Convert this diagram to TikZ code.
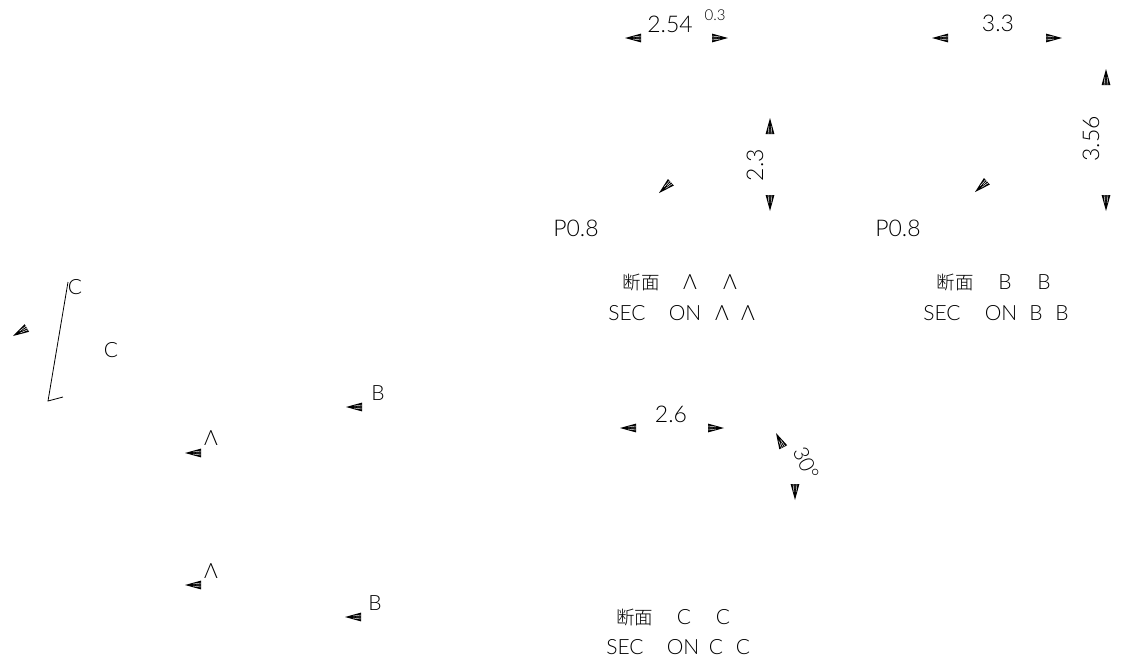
\documentclass[tikz,border=0pt]{standalone}
\usepackage{fontspec}
\setmainfont{Lato Light}
\newfontfamily\cjkfont{Noto Sans CJK SC Light}
\newcommand{\headh}[3]{%
  \begin{scope}[shift={(#1,#2)},rotate=#3]
    \fill[black] (0,0) -- (16,-4.4) -- (16,4.4) -- cycle;
    \draw[white,line width=0.45pt] (8,-1) -- (16,-2) (8,1) -- (16,2) (11,0) -- (16,0);
  \end{scope}}
\tikzset{
  lbl/.style={inner sep=0pt,outer sep=0pt,anchor=center,text=black,font=\fontsize{23}{23}\selectfont},
  mid/.style={lbl,font=\fontsize{21}{21}\selectfont},
  tiny/.style={lbl,font=\fontsize{15}{15}\selectfont},
  cn/.style={lbl,font=\cjkfont\fontsize{18.5}{18.5}\selectfont},
  sec/.style={lbl,font=\fontsize{21}{21}\selectfont},
  cut/.style={line width=0.8pt,black}
}
\begin{document}
\begin{tikzpicture}[x=1pt,y=-1pt]
\useasboundingbox (0,0) rectangle (1130,665);
% left view
\coordinate (cuttop) at (68,282);
\coordinate (cutbot) at (48,401);
\coordinate (cutend) at (63,397);
\draw[cut] (cuttop) -- (cutbot) -- (cutend);
\node[mid] (lc1) at (75,287) {C};
\node[mid] (lc2) at (111,350) {C};
\node[mid] (lb1) at (378,393) {B};
\node[mid] (la1) at (211,438) {Λ};
\node[mid] (la2) at (211,571) {Λ};
\node[mid] (lb2) at (375,603) {B};
\headh{13}{336}{30}
\headh{346}{407}{0}
\headh{185}{453}{0}
\headh{185}{585}{0}
\headh{345}{617}{0}
% section A
\node[lbl] (t254) at (670,24) {2.54};
\node[tiny] (t03) at (715,15) {0.3};
\node[lbl,rotate=90] (t23) at (755,165) {2.3};
\node[lbl] (p1) at (576,228.5) {P0.8};
\headh{625}{38}{0}
\headh{728}{38}{180}
\headh{770}{118}{-90}
\headh{770}{211}{90}
\headh{659}{193}{42}
\node[cn] (a1) at (641,282) {断面};
\node[mid] (a2) at (690,282) {Λ};
\node[mid] (a3) at (730,282) {Λ};
\node[sec] (a4) at (627,313) {SEC};
\node[sec] (a5) at (685,313) {ON};
\node[sec] (a6) at (722,313) {Λ};
\node[sec] (a7) at (748,313) {Λ};
% section B
\node[lbl] (t33) at (998,23) {3.3};
\node[lbl,rotate=90] (t356) at (1091,139) {3.56};
\node[lbl] (p2) at (898,228.5) {P0.8};
\headh{932}{38}{0}
\headh{1062}{38}{180}
\headh{1106}{69}{-90}
\headh{1106}{211}{90}
\headh{975}{192}{42}
\node[cn] (b1) at (955,282) {断面};
\node[mid] (b2) at (1005,282) {B};
\node[mid] (b3) at (1044,282) {B};
\node[sec] (b4) at (942,313) {SEC};
\node[sec] (b5) at (1001,313) {ON};
\node[sec] (b6) at (1036,313) {B};
\node[sec] (b7) at (1062,313) {B};
% section C
\node[lbl] (t26) at (671,414) {2.6};
\node[mid,rotate=-65] (t30) at (806,463) {30°};
\headh{620}{428}{0}
\headh{724}{428}{180}
\headh{776}{433}{-63}
\headh{795}{500}{90}
\node[cn] (c1) at (634.5,617) {断面};
\node[mid] (c2) at (684,617) {C};
\node[mid] (c3) at (723,617) {C};
\node[sec] (c4) at (625,647.5) {SEC};
\node[sec] (c5) at (683,647.5) {ON};
\node[sec] (c6) at (716,647.5) {C};
\node[sec] (c7) at (743,647.5) {C};
\end{tikzpicture}
\end{document}
